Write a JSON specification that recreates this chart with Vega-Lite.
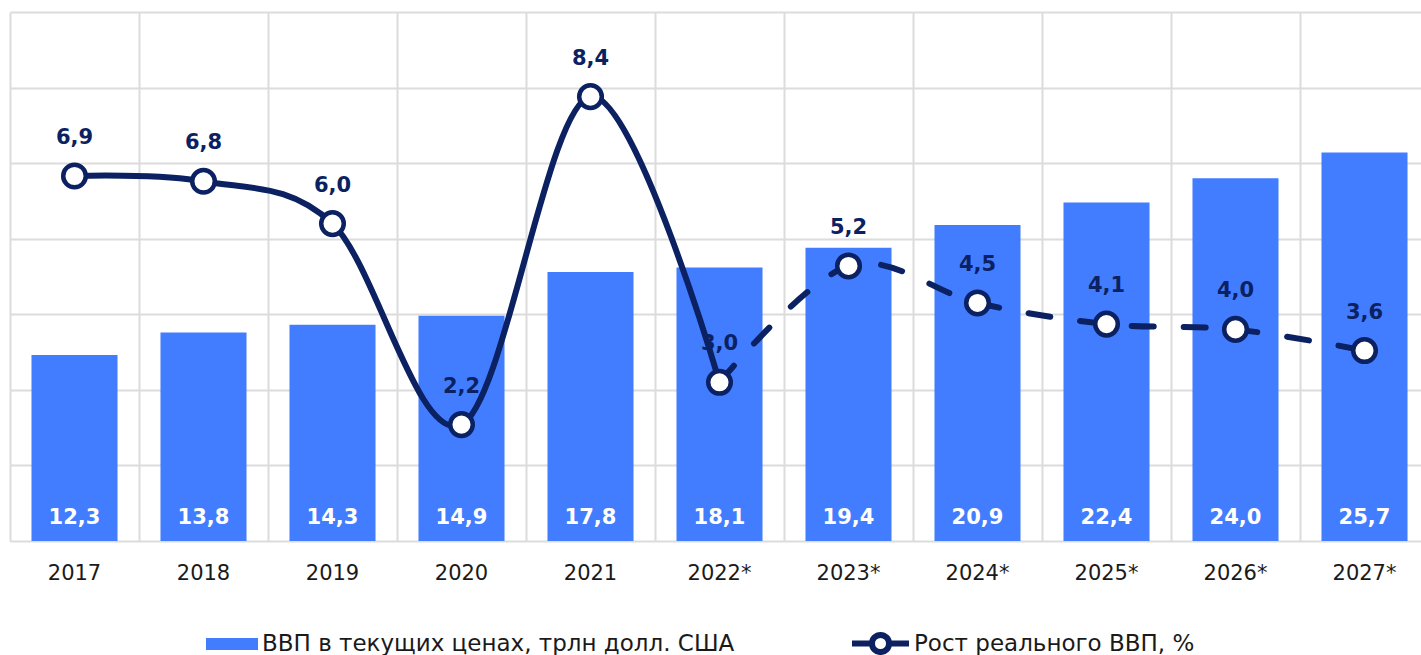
{
  "$schema": "https://vega.github.io/schema/vega-lite/v6.json",
  "width": 1419,
  "height": 529,
  "autosize": {"type": "none"},
  "padding": {"left": 10, "top": 12, "right": 0, "bottom": 114},
  "background": "white",
  "config": {
    "view": {"stroke": null},
    "locale": {"number": {"decimal": ",", "thousands": " ", "grouping": [3], "currency": ["", ""]}},
    "font": "DejaVu Sans"
  },
  "data": {
    "values": [
      {"year": "2017", "gdp": 12.3, "growth": 6.9},
      {"year": "2018", "gdp": 13.8, "growth": 6.8},
      {"year": "2019", "gdp": 14.3, "growth": 6.0},
      {"year": "2020", "gdp": 14.9, "growth": 2.2},
      {"year": "2021", "gdp": 17.8, "growth": 8.4},
      {"year": "2022*", "gdp": 18.1, "growth": 3.0},
      {"year": "2023*", "gdp": 19.4, "growth": 5.2},
      {"year": "2024*", "gdp": 20.9, "growth": 4.5},
      {"year": "2025*", "gdp": 22.4, "growth": 4.1},
      {"year": "2026*", "gdp": 24.0, "growth": 4.0},
      {"year": "2027*", "gdp": 25.7, "growth": 3.6}
    ]
  },
  "encoding": {
    "x": {
      "field": "year",
      "type": "ordinal",
      "sort": null,
      "scale": {"paddingInner": 0, "paddingOuter": 0},
      "axis": {
        "title": null,
        "labelAngle": 0,
        "domain": false,
        "ticks": false,
        "grid": true,
        "bandPosition": 0,
        "gridColor": "#dcdcdc",
        "gridWidth": 2,
        "labelFont": "DejaVu Sans",
        "labelFontSize": 21,
        "labelColor": "#1a1a1a",
        "labelPadding": 21
      }
    }
  },
  "layer": [
    {
      "layer": [
        {
          "mark": {"type": "bar", "width": {"band": 0.667}, "color": "#437dff"},
          "encoding": {
            "y": {
              "field": "gdp",
              "type": "quantitative",
              "scale": {"domain": [0, 35], "nice": false},
              "axis": {
                "title": null,
                "labels": false,
                "ticks": false,
                "domain": false,
                "values": [0, 5, 10, 15, 20, 25, 30, 35],
                "gridColor": "#dcdcdc",
                "gridWidth": 2
              }
            },
            "fill": {
              "datum": "ВВП в текущих ценах, трлн долл. США",
              "scale": {"range": ["#437dff"]},
              "legend": {
                "orient": "none",
                "legendX": 196,
                "legendY": 606,
                "title": null,
                "padding": 0,
                "symbolType": "M-1,-0.23H1V0.23H-1Z",
                "symbolSize": 2704,
                "symbolStrokeWidth": 0,
                "labelFont": "DejaVu Sans",
                "labelFontSize": 23,
                "labelColor": "#1a1a1a",
                "labelOffset": 4,
                "labelLimit": 700
              }
            }
          }
        },
        {
          "mark": {"type": "text", "color": "white", "fontWeight": "bold", "fontSize": 21, "baseline": "middle", "dy": -23},
          "encoding": {
            "y": {"datum": 0},
            "text": {"field": "gdp", "type": "quantitative", "format": ".1f"}
          }
        }
      ]
    },
    {
      "layer": [
        {
          "transform": [{"filter": {"field": "year", "oneOf": ["2017", "2018", "2019", "2020", "2021", "2022*"]}}],
          "mark": {"type": "line", "interpolate": "cardinal", "strokeWidth": 6, "strokeCap": "round"},
          "encoding": {
            "y": {"field": "growth", "type": "quantitative", "scale": {"domain": [0, 10], "nice": false}, "axis": null},
            "stroke": {
              "datum": "Рост реального ВВП, %",
              "scale": {"range": ["#0b2162"]},
              "legend": {
                "orient": "none",
                "legendX": 839,
                "legendY": 600,
                "title": null,
                "padding": 0,
                "symbolType": "M-1,0H-0.3M0.3,0H1M0.3,0A0.3,0.3 0 1 1 -0.3,0A0.3,0.3 0 1 1 0.3,0",
                "symbolSize": 3249,
                "symbolStrokeWidth": 6,
                "symbolFillColor": "white",
                "labelFont": "DejaVu Sans",
                "labelFontSize": 23,
                "labelColor": "#1a1a1a",
                "labelOffset": 2,
                "labelLimit": 700
              }
            }
          }
        },
        {
          "transform": [{"filter": {"field": "year", "oneOf": ["2022*", "2023*", "2024*", "2025*", "2026*", "2027*"]}}],
          "mark": {"type": "line", "interpolate": "cardinal", "strokeWidth": 6, "strokeCap": "round", "strokeDash": [22, 30], "color": "#0b2162"},
          "encoding": {
            "y": {"field": "growth", "type": "quantitative"}
          }
        },
        {
          "mark": {"type": "point", "filled": true, "fill": "white", "stroke": "#0b2162", "strokeWidth": 4.5, "size": 510, "opacity": 1},
          "encoding": {
            "y": {"field": "growth", "type": "quantitative"}
          }
        },
        {
          "mark": {"type": "text", "color": "#0b2162", "fontWeight": "bold", "fontSize": 21, "baseline": "middle", "dy": -38},
          "encoding": {
            "y": {"field": "growth", "type": "quantitative"},
            "text": {"field": "growth", "type": "quantitative", "format": ".1f"}
          }
        }
      ]
    }
  ],
  "resolve": {"scale": {"y": "independent"}}
}
